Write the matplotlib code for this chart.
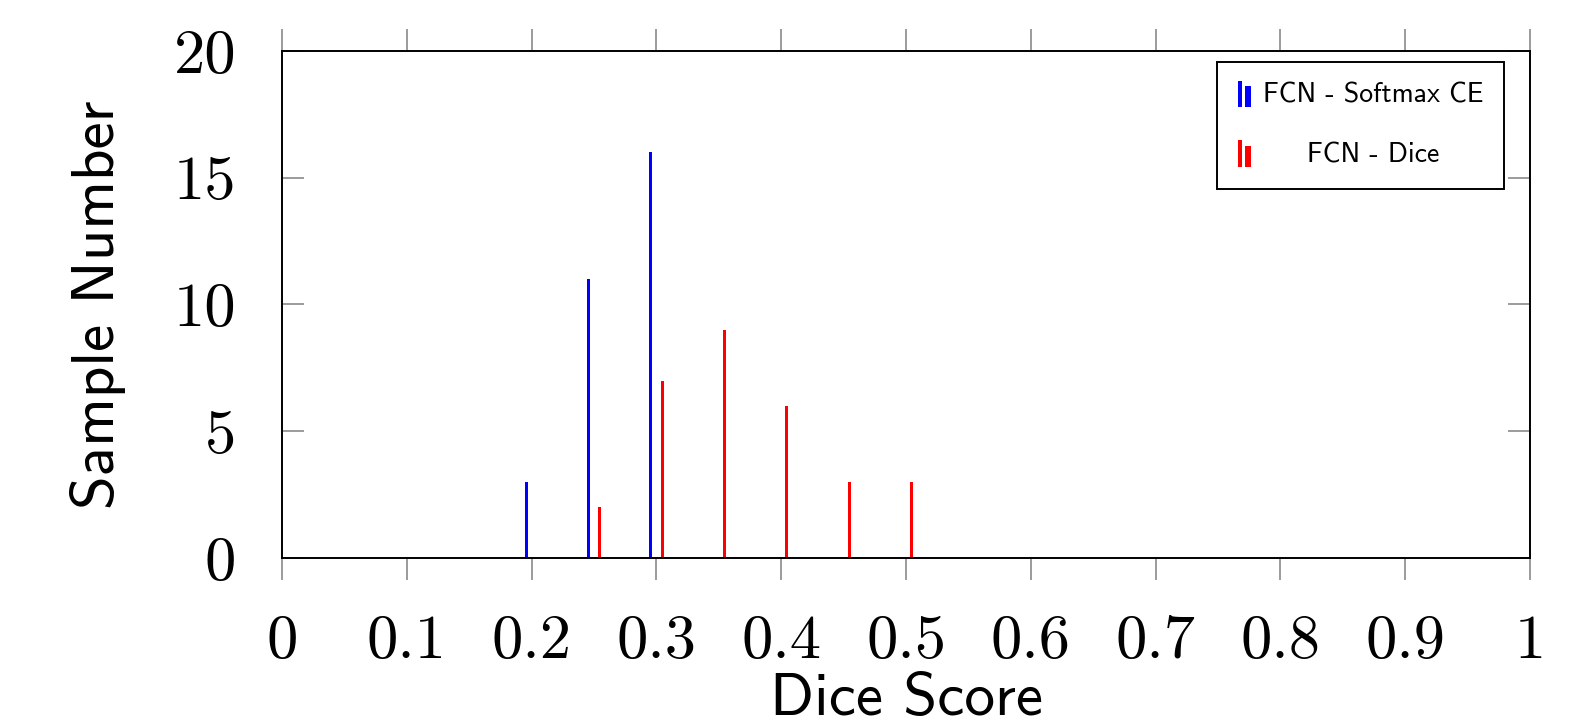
import matplotlib
matplotlib.use("Agg")
import matplotlib.pyplot as plt
from matplotlib.patches import Rectangle
from matplotlib.container import BarContainer
from matplotlib.legend_handler import HandlerBase

## ================= DATOS =================
softmax_x = [0.20, 0.25, 0.30]
softmax_y = [3, 11, 16]
dice_x = [0.25, 0.30, 0.35, 0.40, 0.45, 0.50]
dice_y = [2, 7, 9, 6, 3, 3]

xticks = [0, 0.1, 0.2, 0.3, 0.4, 0.5, 0.6, 0.7, 0.8, 0.9, 1]
xtick_labels = ["0", "0.1", "0.2", "0.3", "0.4", "0.5", "0.6", "0.7", "0.8", "0.9", "1"]
yticks = [0, 5, 10, 15, 20]
ytick_labels = ["0", "5", "10", "15", "20"]

## ================= ESTILO =================
bar_w = 0.0024      # ancho de barra (unidades de x)
shift = 0.0045      # desplazamiento ybar
tick_gray = "#808080"
serif = "cmr10"
sans = "cmss10"


class TwoBars(HandlerBase):
    # icono tipo pgfplots ybar legend
    def create_artists(self, legend, orig, xd, yd, w, h, fs, trans):
        c = orig.patches[0].get_facecolor()
        x0 = xd + 0.0 * w
        y0 = yd - 0.2 * h
        r1 = Rectangle((x0, y0), 0.28 * w, 1.35 * h,
                       facecolor=c, edgecolor="none", transform=trans)
        r2 = Rectangle((x0 + 0.5 * w, y0), 0.4 * w, 1.05 * h,
                       facecolor=c, edgecolor="none", transform=trans)
        return [r1, r2]


fig = plt.figure(figsize=(15.9, 7.26), dpi=100)
ax = fig.add_axes([0.1774, 0.2314, 0.7849, 0.6984])

b1 = ax.bar([x - shift for x in softmax_x], softmax_y, width=bar_w,
            color="blue", label="FCN - Softmax CE", zorder=2)
b2 = ax.bar([x + shift for x in dice_x], dice_y, width=bar_w,
            color="red", label="FCN - Dice", zorder=2)

ax.set_xlim(0, 1)
ax.set_ylim(0, 20)

ax.set_xticks(xticks)
ax.set_xticklabels(xtick_labels, fontfamily=serif, fontsize=45)
ax.set_yticks(yticks)
ax.set_yticklabels(ytick_labels, fontfamily=serif, fontsize=45)

ax.tick_params(axis="x", direction="out", length=16, width=1.1, color=tick_gray,
               top=True, bottom=True, pad=25)
ax.tick_params(axis="y", direction="in", length=16, width=1.1, color=tick_gray,
               left=True, right=True, pad=33)

for s in ax.spines.values():
    s.set_linewidth(1.4)
    s.set_color("black")
    s.set_zorder(3)

ax.set_xlabel("Dice Score", fontfamily=sans, fontsize=44, labelpad=2)
ax.set_ylabel("Sample Number", fontfamily=sans, fontsize=44, labelpad=34)

leg = ax.legend(handles=[b1, b2], loc="upper right",
                bbox_to_anchor=(0.979, 0.978), borderaxespad=0,
                fancybox=False, edgecolor="black", framealpha=1,
                prop={"family": sans, "size": 20},
                handler_map={BarContainer: TwoBars()},
                handlelength=0.55, handleheight=0.7, handletextpad=0.35,
                labelspacing=1.25, borderpad=0.75)
leg.get_frame().set_linewidth(1.4)
# el legend de pgfplots centra los textos
r = fig.canvas.get_renderer()
txts = leg.get_texts()
ws = [t.get_window_extent(r).width for t in txts]
for t, w in zip(txts, ws):
    t.set_position(((max(ws) - w) / 2, 0))

fig.savefig("out.png", dpi=100)
